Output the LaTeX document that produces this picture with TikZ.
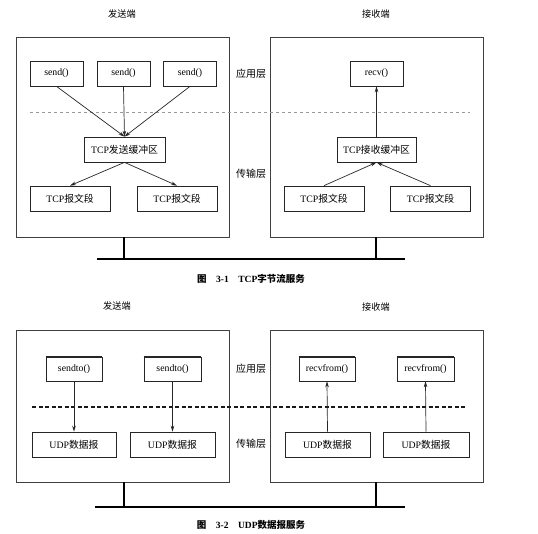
\documentclass[tikz,border=0pt]{standalone}
\usepackage{fontspec}
\setmainfont{Liberation Serif}
\newfontfamily\cjk{Noto Sans CJK SC}
\usetikzlibrary{arrows.meta}

\begin{document}
\begin{tikzpicture}[x=1pt,y=-1pt,
    font=\fontsize{9.8}{12}\selectfont,
    frame/.style={draw=black!75,line width=0.8pt,minimum width=213pt,inner sep=0pt},
    box/.style={draw=black!85,line width=0.7pt,minimum height=25pt,inner sep=0pt},
    topedge/.style={line width=1.6pt,black!85},
    flow/.style={-{Stealth[length=6pt,width=3.6pt]},black!85,line width=0.7pt},
    layer/.style={dashed,black!40,line width=0.7pt},
    layer2/.style={dash pattern=on 4pt off 2.5pt,black!90,line width=1.1pt},
    lbl/.style={font=\fontsize{10}{12}\selectfont\cjk},
    side/.style={font=\fontsize{9.2}{11}\selectfont\cjk},
    stem/.style={line width=1.4pt},
    bus/.style={line width=2.8pt},
    caption/.style={font=\fontsize{9.5}{11}\selectfont\bfseries}]
  \useasboundingbox (0,0) rectangle (538,533);

  % TCP
  \node [side] (sendT) at (122,14) {发送端};
  \node [side] (recvT) at (376,14) {接收端};
  \node [frame,minimum height=200pt] (sL) at (123,137) {};
  \node [frame,minimum height=200pt] (rL) at (377,137) {};
  \node [lbl] (app1) at (251,74) {应用层};
  \node [lbl] (tra1) at (251,174) {传输层};
  \draw [layer] (30,112) -- (470,112);

  \node [box,minimum width=53pt] (send1) at (56.5,73.5) {send()};
  \node [box,minimum width=53pt] (send2) at (123.5,73.5) {send()};
  \node [box,minimum width=53pt] (send3) at (190,73.5) {send()};
  \node [box,minimum width=81pt] (sbuf) at (124.5,149.5) {TCP{\cjk 发送缓冲区}};
  \node [box,minimum width=80pt] (sseg1) at (70,198.5) {TCP{\cjk 报文段}};
  \node [box,minimum width=80pt] (sseg2) at (177,198.5) {TCP{\cjk 报文段}};
  \foreach \n in {send1,send2,send3}
    \draw [flow] (\n.south) -- (sbuf.north);
  \draw [flow] (sbuf.south) -- (sseg1.north);
  \draw [flow] (sbuf.south) -- (sseg2.north);

  \node [box,minimum width=53pt] (recv) at (376.5,73.5) {recv()};
  \node [box,minimum width=79pt] (rbuf) at (376.5,149.5) {TCP{\cjk 接收缓冲区}};
  \node [box,minimum width=80pt] (rseg1) at (324,198.5) {TCP{\cjk 报文段}};
  \node [box,minimum width=80pt] (rseg2) at (430.5,198.5) {TCP{\cjk 报文段}};
  \draw [flow] (rbuf.north) -- (recv.south);
  \draw [flow] (rseg1.north) -- (rbuf.south);
  \draw [flow] (rseg2.north) -- (rbuf.south);

  \coordinate (busA) at (97,259);
  \coordinate (busB) at (405,259);
  \draw [stem] (124,237) -- (124,259);
  \draw [stem] (376,237) -- (376,259);
  \draw [bus] (busA) -- (busB);
  \node [caption] (cap1) at (251,279) {{\cjk 图}\quad 3-1\quad TCP{\cjk 字节流服务}};

  % UDP
  \node [side] (sendU) at (117,306) {发送端};
  \node [side] (recvU) at (376,307) {接收端};
  \node [frame,minimum height=152pt] (sL2) at (123,406) {};
  \node [frame,minimum height=152pt] (rL2) at (377,406) {};
  \node [lbl] (app2) at (251,369) {应用层};
  \node [lbl] (tra2) at (251,444) {传输层};
  \draw [layer2] (32,407) -- (466,407);

  \node [box,minimum width=56pt,minimum height=24pt] (st1) at (74,369) {sendto()};
  \node [box,minimum width=57pt,minimum height=24pt] (st2) at (172.5,369) {sendto()};
  \node [box,minimum width=84pt] (su1) at (74,444.5) {UDP{\cjk 数据报}};
  \node [box,minimum width=85pt] (su2) at (172.5,444.5) {UDP{\cjk 数据报}};
  \draw [flow] (st1.south) -- (su1.north);
  \draw [flow] (st2.south) -- (su2.north);

  \node [box,minimum width=56pt,minimum height=24pt] (rf1) at (327,369) {recvfrom()};
  \node [box,minimum width=57pt,minimum height=24pt] (rf2) at (425.5,369) {recvfrom()};
  \node [box,minimum width=85pt] (ru1) at (327.5,444.5) {UDP{\cjk 数据报}};
  \node [box,minimum width=86pt] (ru2) at (426,444.5) {UDP{\cjk 数据报}};
  \draw [flow] (ru1.north) -- (rf1.south);
  \draw [flow] (ru2.north) -- (rf2.south);
  \foreach \n in {st1,st2,rf1,rf2}
    \draw [topedge] (\n.north west) -- (\n.north east);

  \coordinate (bus2A) at (95,507);
  \coordinate (bus2B) at (405,507);
  \draw [stem] (124,482) -- (124,507);
  \draw [stem] (376,482) -- (376,507);
  \draw [bus] (bus2A) -- (bus2B);
  \node [caption] (cap2) at (251,525) {{\cjk 图}\quad 3-2\quad UDP{\cjk 数据报服务}};
\end{tikzpicture}
\end{document}
